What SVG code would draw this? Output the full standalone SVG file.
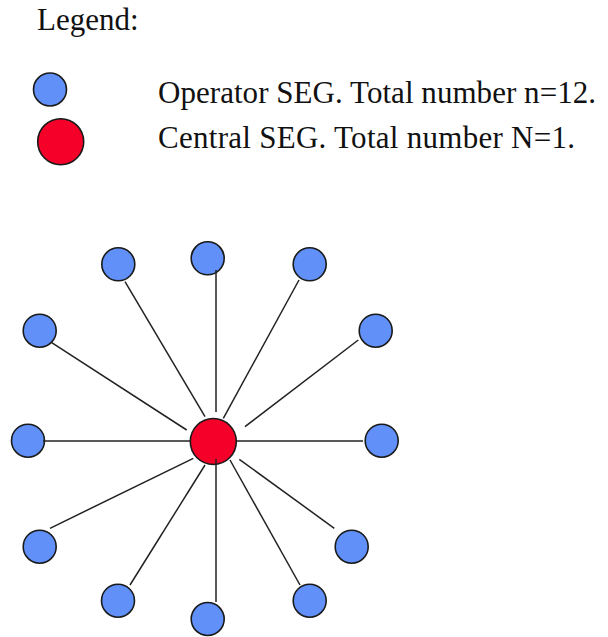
<svg xmlns="http://www.w3.org/2000/svg" width="608" height="637" viewBox="0 0 608 637">
  <style>
    .lbl { font-family: "Liberation Serif", "Times New Roman", serif; font-size: 31px; fill: #111; }
    .op { fill: #6090f8; stroke: #1a1a1a; stroke-width: 1.6; }
    .central { fill: #f50028; stroke: #1a1a1a; stroke-width: 1.6; }
    .link { stroke: #222; stroke-width: 1.5; fill: none; }
  </style>
  <rect width="608" height="637" fill="#ffffff"/>

  <!-- legend -->
  <g id="legend">
    <text class="lbl" x="37" y="29.5">Legend:</text>
    <circle class="op" cx="50" cy="89.5" r="16.5"/>
    <text class="lbl" x="158" y="103" textLength="438" lengthAdjust="spacing">Operator SEG. Total number n=12.</text>
    <circle class="central" cx="60.7" cy="141.7" r="23"/>
    <text class="lbl" x="158" y="148" textLength="417" lengthAdjust="spacing">Central SEG. Total number N=1.</text>
  </g>

  <!-- star of operator SEGs around the central SEG -->
  <g id="central-seg"><circle class="central" cx="213.3" cy="441.5" r="23"/></g>
  <g id="op-n"><circle class="op" cx="207.7" cy="258.3" r="16.5"/></g>
  <g id="op-nnw"><circle class="op" cx="118.3" cy="264.3" r="16.5"/></g>
  <g id="op-nne"><circle class="op" cx="309.7" cy="264.3" r="16.5"/></g>
  <g id="op-wnw"><circle class="op" cx="39.7" cy="330.7" r="16.5"/></g>
  <g id="op-ene"><circle class="op" cx="375.7" cy="330.7" r="16.5"/></g>
  <g id="op-w"><circle class="op" cx="28" cy="440.7" r="16.5"/></g>
  <g id="op-e"><circle class="op" cx="381.7" cy="440.7" r="16.5"/></g>
  <g id="op-wsw"><circle class="op" cx="39.7" cy="546.7" r="16.5"/></g>
  <g id="op-ese"><circle class="op" cx="351.7" cy="546.7" r="16.5"/></g>
  <g id="op-ssw"><circle class="op" cx="118" cy="600.7" r="16.5"/></g>
  <g id="op-s"><circle class="op" cx="207.7" cy="619" r="16.5"/></g>
  <g id="op-sse"><circle class="op" cx="309.7" cy="600.7" r="16.5"/></g>

  <g id="connectors">
    <line class="link" x1="216" y1="270" x2="216" y2="412"/>
    <line class="link" x1="216" y1="459" x2="216" y2="602"/>
    <line class="link" x1="43" y1="441" x2="190" y2="441"/>
    <line class="link" x1="237" y1="441" x2="363" y2="441"/>
    <line class="link" x1="51.7" y1="342.7" x2="186.7" y2="430"/>
    <line class="link" x1="125" y1="281.7" x2="205" y2="416.7"/>
    <line class="link" x1="299" y1="280" x2="223.3" y2="418.3"/>
    <line class="link" x1="358.3" y1="340" x2="245" y2="426.7"/>
    <line class="link" x1="193.3" y1="458.3" x2="50" y2="528.3"/>
    <line class="link" x1="205" y1="465" x2="130" y2="585"/>
    <line class="link" x1="230" y1="460" x2="300" y2="585"/>
    <line class="link" x1="239.3" y1="459.3" x2="334.3" y2="528.3"/>
  </g>
</svg>
